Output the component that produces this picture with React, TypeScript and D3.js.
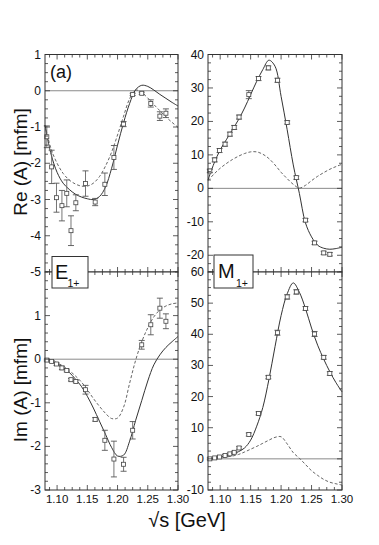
import React from "react";
import * as d3 from "d3";

// measured energies (GeV) of the single-energy points
const energies = [1.083, 1.091, 1.099, 1.108, 1.116, 1.123, 1.131, 1.147, 1.163, 1.179, 1.194, 1.21, 1.225, 1.24, 1.255, 1.27, 1.28];

const reE1 = [-1.27, -2.1, -2.95, -3.17, -2.83, -3.86, -3.09, -2.56, -3.07, -2.58, -1.84, -0.92, -0.1, -0.07, -0.35, -0.7, -0.62];
const reE1Err = [0.3, 0.46, 0.4, 0.42, 0.37, 0.41, 0.22, 0.35, 0.1, 0.31, 0.33, 0.07, 0.03, 0.03, 0.1, 0.12, 0.12];
const imE1 = [-0.02, -0.05, -0.11, -0.2, -0.26, -0.47, -0.51, -0.7, -1.38, -1.86, -2.29, -2.41, -1.63, 0.33, 0.79, 1.17, 0.87];
const imE1Err = [0.02, 0.02, 0.03, 0.04, 0.03, 0.03, 0.03, 0.1, 0.04, 0.23, 0.41, 0.16, 0.2, 0.1, 0.23, 0.23, 0.17];

const reM1 = [5.2, 8.5, 11.3, 13.2, 16.2, 18.2, 21.3, 28.0, 32.8, 36.0, 32.3, 19.7, 3.2, -9.5, -16.3, -19.3, -19.7];
const reM1Err = [0.5, 0.6, 0.6, 0.6, 0.6, 0.6, 0.6, 1.2, 0.6, 0.6, 0.6, 0.5, 0.5, 0.5, 0.5, 0.5, 0.5];
const imM1 = [0.0, 0.3, 0.6, 1.1, 1.6, 2.1, 3.5, 7.8, 14.6, 26.2, 40.5, 52.0, 53.6, 48.3, 40.1, 32.6, 27.4];
const imM1Err = [0.3, 0.3, 0.3, 0.3, 0.3, 0.3, 0.4, 0.5, 0.5, 0.5, 0.8, 0.7, 0.7, 0.6, 0.8, 0.6, 0.6];

const curveS = [1.08, 1.09, 1.1, 1.11, 1.12, 1.13, 1.14, 1.15, 1.16, 1.17, 1.18, 1.19, 1.2, 1.21, 1.22, 1.23, 1.24, 1.25, 1.26, 1.27, 1.28, 1.29, 1.3];

const reE1Solid = [-0.95, -1.75, -2.25, -2.55, -2.72, -2.85, -2.93, -2.98, -3.0, -2.92, -2.66, -2.15, -1.5, -0.88, -0.35, 0.03, 0.15, 0.12, 0.02, -0.1, -0.21, -0.32, -0.42];
const reE1Dash = [-0.95, -1.6, -2.0, -2.28, -2.46, -2.57, -2.63, -2.63, -2.55, -2.37, -2.08, -1.7, -1.22, -0.7, -0.22, 0.02, -0.05, -0.2, -0.38, -0.55, -0.72, -0.87, -1.01];
const imE1Solid = [0, -0.04, -0.1, -0.19, -0.3, -0.45, -0.62, -0.85, -1.12, -1.42, -1.72, -2.02, -2.22, -2.2, -1.88, -1.4, -0.95, -0.5, -0.13, 0.1, 0.27, 0.4, 0.52];
const imE1Dash = [0, -0.03, -0.08, -0.16, -0.26, -0.38, -0.52, -0.7, -0.9, -1.08, -1.24, -1.36, -1.35, -1.1, -0.55, -0.02, 0.4, 0.72, 0.97, 1.13, 1.22, 1.27, 1.29];
const reM1Solid = [2.5, 7.5, 11.5, 14.5, 17.5, 20.5, 24, 28, 32, 35.5, 38.3, 36.5, 27.5, 17.5, 7, -1.5, -10.3, -14.5, -17, -17.9, -18.2, -18, -17.6];
const reM1Dash = [2.3, 4.3, 6.0, 7.4, 8.6, 9.6, 10.4, 10.9, 10.9, 10.2, 8.9, 7.0, 4.8, 2.9, 1.2, 0.1, 0.9, 2.3, 3.6, 4.7, 5.7, 6.5, 7.2];
const imM1Solid = [0, 0.2, 0.5, 1.0, 1.5, 2.3, 3.5, 6.0, 10.5, 16.5, 25.5, 36, 46, 53, 56.5, 53.5, 48.3, 42, 36.5, 32, 28, 24.5, 21.5];
const imM1Dash = [0, 0.1, 0.3, 0.6, 0.9, 1.4, 2.2, 3.1, 4.0, 5.0, 6.0, 6.9, 7.1, 4.8, 2.0, 0.2, -1.8, -3.8, -5.3, -6.6, -7.5, -8.0, -8.4];

const xTicks = [1.1, 1.15, 1.2, 1.25, 1.3];
const xTickLabels = ["1.10", "1.15", "1.20", "1.25", "1.30"];
const reE1Ticks = [1, 0, -1, -2, -3, -4, -5];
const imE1Ticks = [1, 0, -1, -2, -3];
const reM1Ticks = [40, 30, 20, 10, 0, -10, -20];
const imM1Ticks = [60, 50, 40, 30, 20, 10, 0, -10];

const FONT = "'Liberation Sans', Arial, Helvetica, sans-serif";
const INK = "#333";

type PanelProps = {
  left: number;
  right: number;
  top: number;
  bottom: number;
  yDomain: [number, number];
  yTicks: number[];
  yMinor: number;
  showX: boolean;
  pts: number[];
  errs: number[];
  solid: number[];
  dash: number[];
};

function Panel(p: PanelProps) {
  const x = d3.scaleLinear().domain([1.08, 1.3]).range([p.left, p.right]);
  const y = d3.scaleLinear().domain(p.yDomain).range([p.bottom, p.top]);
  const line = d3
    .line<number>()
    .x((_, i) => x(curveS[i]))
    .y((d) => y(d))
    .curve(d3.curveCatmullRom.alpha(0.5));

  const yMinorVals = d3.range(p.yDomain[0], p.yDomain[1] + 1e-9, p.yMinor);
  const xMinorVals = d3.range(1.1 - 0.0125, 1.3 + 1e-9, 0.0125);
  const isMajorY = (v: number) => p.yTicks.some((t) => Math.abs(t - v) < 1e-6);
  const isMajorX = (v: number) => xTicks.some((t) => Math.abs(t - v) < 1e-6);

  const ticks: JSX.Element[] = [];
  yMinorVals.forEach((v, i) => {
    const len = isMajorY(v) ? 5 : 3;
    const yy = y(v);
    ticks.push(<line key={"yl" + i} x1={p.left} x2={p.left + len} y1={yy} y2={yy} />);
    ticks.push(<line key={"yr" + i} x1={p.right} x2={p.right - len} y1={yy} y2={yy} />);
  });
  xMinorVals.forEach((v, i) => {
    const len = isMajorX(v) ? 5 : 3;
    const xx = x(v);
    ticks.push(<line key={"xb" + i} x1={xx} x2={xx} y1={p.bottom} y2={p.bottom - len} />);
    ticks.push(<line key={"xt" + i} x1={xx} x2={xx} y1={p.top} y2={p.top + len} />);
  });

  return (
    <g>
      <rect x={p.left} y={p.top} width={p.right - p.left} height={p.bottom - p.top} fill="#fff" />
      <line x1={p.left} x2={p.right} y1={y(0)} y2={y(0)} stroke="#8a8a8a" strokeWidth={1} />
      <path d={line(p.dash) || ""} fill="none" stroke="#555" strokeWidth={0.9} strokeDasharray="3,2" />
      <path d={line(p.solid) || ""} fill="none" stroke={INK} strokeWidth={1} />
      {p.pts.map((v, i) => {
        const cx = x(energies[i]);
        const cy = y(v);
        const y1 = y(v + p.errs[i]);
        const y2 = y(v - p.errs[i]);
        return (
          <g key={i}>
            <line x1={cx} x2={cx} y1={y1} y2={y2} stroke="#666" strokeWidth={0.9} />
            <line x1={cx - 3} x2={cx + 3} y1={y1} y2={y1} stroke="#555" strokeWidth={0.9} />
            <line x1={cx - 3} x2={cx + 3} y1={y2} y2={y2} stroke="#555" strokeWidth={0.9} />
            <rect x={cx - 2} y={cy - 2} width={4} height={4} fill="#fff" stroke="#444" strokeWidth={0.8} />
          </g>
        );
      })}
      <g stroke={INK} strokeWidth={0.8}>{ticks}</g>
      <rect x={p.left} y={p.top} width={p.right - p.left} height={p.bottom - p.top} fill="none" stroke={INK} strokeWidth={1} />
      <g fontFamily={FONT} fontSize={12} fill="#111">
        {p.yTicks.map((t) => (
          <text key={t} x={p.left - 4} y={y(t) + 4} textAnchor="end">
            {t}
          </text>
        ))}
        {p.showX &&
          xTicks.map((t, i) => (
            <text key={t} x={x(t)} y={503} textAnchor="middle" fontSize={11.5}>
              {xTickLabels[i]}
            </text>
          ))}
      </g>
    </g>
  );
}

export default function App() {
  return (
    <svg width={379} height={545} style={{ position: "absolute", left: 0, top: 0, background: "#fff" }}>
      <rect width={379} height={545} fill="#fff" />
      <Panel left={45} right={178} top={54.5} bottom={272} yDomain={[-5, 1]} yTicks={reE1Ticks} yMinor={0.25} showX={false}
        pts={reE1} errs={reE1Err} solid={reE1Solid} dash={reE1Dash} />
      <Panel left={45} right={178} top={272} bottom={490} yDomain={[-3, 2]} yTicks={imE1Ticks} yMinor={0.2} showX={true}
        pts={imE1} errs={imE1Err} solid={imE1Solid} dash={imE1Dash} />
      <Panel left={208} right={342} top={54.5} bottom={272} yDomain={[-25, 40]} yTicks={reM1Ticks} yMinor={2.5} showX={false}
        pts={reM1} errs={reM1Err} solid={reM1Solid} dash={reM1Dash} />
      <Panel left={208} right={342} top={272} bottom={490} yDomain={[-10, 60]} yTicks={imM1Ticks} yMinor={2.5} showX={true}
        pts={imM1} errs={imM1Err} solid={imM1Solid} dash={imM1Dash} />

      {/* legend boxes */}
      <g fontFamily={FONT} fill="#111">
        <rect x={52} y={256.5} width={36} height={31.5} fill="#fff" stroke={INK} strokeWidth={1} />
        <text x={55} y={279} fontSize={20}>E</text>
        <text x={67.5} y={287} fontSize={10.5}>1+</text>
        <rect x={214} y={255} width={39} height={33} fill="#fff" stroke={INK} strokeWidth={1} />
        <text x={218} y={277.5} fontSize={20}>M</text>
        <text x={236} y={287} fontSize={10.5}>1+</text>

        <text x={50} y={78} fontSize={18}>(a)</text>
        <text transform="translate(27,162) rotate(-90)" textAnchor="middle" fontSize={19}>Re (A) [mfm]</text>
        <text transform="translate(27,390) rotate(-90)" textAnchor="middle" fontSize={19}>Im (A) [mfm]</text>
        <text x={187} y={527} textAnchor="middle" fontSize={20}>√s [GeV]</text>
      </g>
    </svg>
  );
}
